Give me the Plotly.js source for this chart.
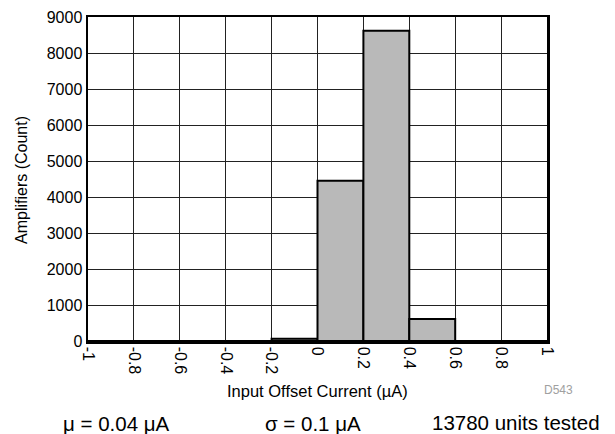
<!DOCTYPE html>
<html>
<head>
<meta charset="utf-8">
<script src="https://cdn.plot.ly/plotly-3.0.1.min.js"></script>
<style>html,body{margin:0;padding:0;background:#fff;}#chart{width:615px;height:434px;}</style>
</head>
<body>
<div id="chart"></div>
<script>
// Histogram bins (left edges, µA) and counts
var binLeft = [-1.0, -0.8, -0.6, -0.4, -0.2, 0.0, 0.2, 0.4, 0.6, 0.8];
var binWidth = 0.2;
var counts = [0, 0, 0, 0, 60, 4450, 8620, 610, 0, 0];
var xTickVals = [-1, -0.8, -0.6, -0.4, -0.2, 0, 0.2, 0.4, 0.6, 0.8, 1];
var xTickText = ["-1", "-0.8", "-0.6", "-0.4", "-0.2", "0", "0.2", "0.4", "0.6", "0.8", "1"];
var yTickVals = [0, 1000, 2000, 3000, 4000, 5000, 6000, 7000, 8000, 9000];
var statsText = ["\u03bc = 0.04 \u03bcA", "\u03c3 = 0.1 \u03bcA", "13780 units tested"];
var codeText = "D543";

var font = "Liberation Sans, Arial, sans-serif";

var trace = {
  type: 'bar',
  x: binLeft,
  y: counts,
  width: binLeft.map(function(){return binWidth;}),
  offset: 0,
  marker: {color: '#b9b9b9', line: {color: '#000', width: 2}},
  hoverinfo: 'none'
};

var W = 459, H = 324, L = 88, T = 17;
function px(x){ return (x - L) / W; }
function py(y){ return (T + H - y) / H; }

var layout = {
  width: 615, height: 434,
  margin: {l: L, r: 615 - L - W, t: T, b: 434 - T - H},
  paper_bgcolor: '#fff', plot_bgcolor: '#fff',
  showlegend: false,
  bargap: 0,
  font: {family: font, color: '#000'},
  xaxis: {
    range: [-1, 1], tickmode: 'array', tickvals: xTickVals, ticktext: xTickText,
    tickangle: 90, tickfont: {size: 16, family: font},
    showgrid: true, gridcolor: '#222', gridwidth: 1,
    showline: true, linecolor: '#000', linewidth: 2.5, mirror: true,
    ticks: '', zeroline: false, fixedrange: true
  },
  yaxis: {
    range: [0, 9000], tickmode: 'array', tickvals: yTickVals,
    tickfont: {size: 16, family: font},
    showgrid: true, gridcolor: '#222', gridwidth: 1,
    showline: true, linecolor: '#000', linewidth: 2.5, mirror: true,
    ticks: '', zeroline: false, fixedrange: true
  },
  annotations: [
    {xref: 'paper', yref: 'paper', x: px(21), y: py(180), text: 'Amplifiers (Count)', textangle: -90,
     showarrow: false, xanchor: 'center', yanchor: 'middle', font: {size: 16, family: font}},
    {xref: 'paper', yref: 'paper', x: px(317), y: py(391), text: 'Input Offset Current (\u00b5A)',
     showarrow: false, xanchor: 'center', yanchor: 'middle', font: {size: 16.5, family: font}},
    {xref: 'paper', yref: 'paper', x: px(558), y: py(390), text: codeText,
     showarrow: false, xanchor: 'center', yanchor: 'middle', font: {size: 12, color: '#a0a0a0', family: font}},
    {xref: 'paper', yref: 'paper', x: px(116), y: py(423), text: statsText[0],
     showarrow: false, xanchor: 'center', yanchor: 'middle', font: {size: 20.5, family: font}},
    {xref: 'paper', yref: 'paper', x: px(313), y: py(423), text: statsText[1],
     showarrow: false, xanchor: 'center', yanchor: 'middle', font: {size: 20.5, family: font}},
    {xref: 'paper', yref: 'paper', x: px(516), y: py(422), text: statsText[2],
     showarrow: false, xanchor: 'center', yanchor: 'middle', font: {size: 20.5, family: font}}
  ]
};

Plotly.newPlot('chart', [trace], layout, {displayModeBar: false, staticPlot: true});
</script>
</body>
</html>
